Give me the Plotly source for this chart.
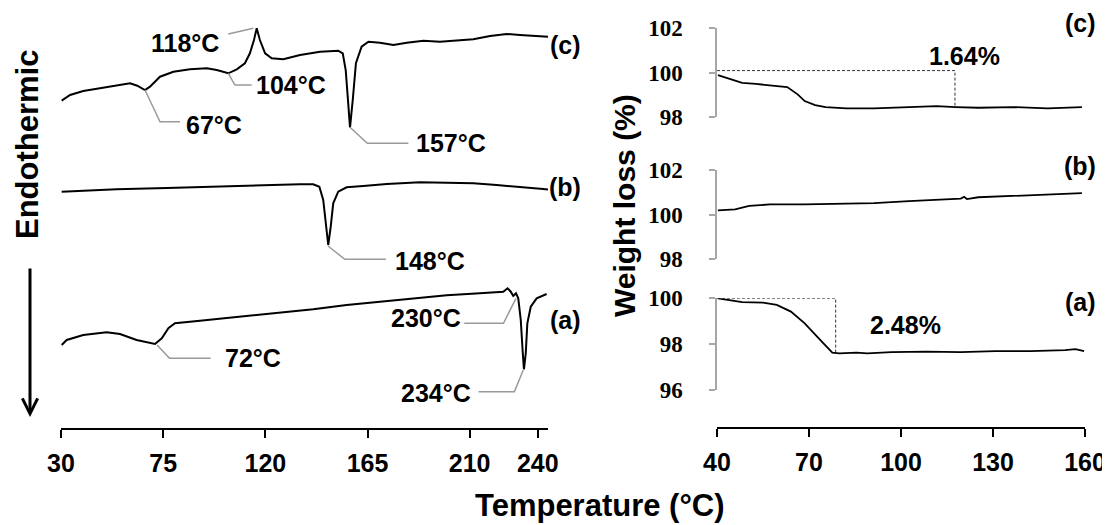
import plotly.graph_objects as go

# ---------------- DSC data (left panel, heat flow in arbitrary units) ----------------
dsc_c_temp = [30.3, 34.0, 39.8, 47.2, 54.5, 60.4, 63.6, 67.0, 69.2, 73.6, 79.5, 86.8, 94.2, 98.6,
              103.7, 107.4, 111.0, 113.2, 115.0, 116.2, 117.6, 119.9, 122.8, 127.9, 135.3, 144.1,
              152.1, 154.1, 155.4, 156.3, 157.3, 158.5, 159.9, 162.4, 165.4, 170.5, 176.4, 182.3,
              189.6, 196.9, 204.3, 211.6, 219.0, 226.3, 232.2, 241.0, 244.5]
dsc_c_val = [3.273, 3.33, 3.37, 3.397, 3.423, 3.447, 3.423, 3.38, 3.413, 3.513, 3.563, 3.587, 3.597, 3.58,
             3.547, 3.587, 3.647, 3.747, 3.88, 3.997, 3.88, 3.747, 3.697, 3.687, 3.73, 3.763,
             3.773, 3.747, 3.58, 3.313, 3.007, 3.28, 3.647, 3.813, 3.863, 3.853, 3.83, 3.853,
             3.873, 3.863, 3.873, 3.887, 3.92, 3.94, 3.93, 3.913, 3.913]

dsc_b_temp = [30.3, 39.7, 54.5, 76.6, 91.2, 108.8, 120.6, 135.3, 141.1, 143.8, 145.5, 147.0, 147.7,
              148.8, 149.9, 152.1, 155.8, 163.1, 173.5, 188.1, 199.9, 211.6, 221.9, 232.2, 242.4, 244.5]
dsc_b_val = [2.363, 2.373, 2.387, 2.40, 2.41, 2.423, 2.433, 2.437, 2.437, 2.413, 2.28, 2.013, 1.83,
             2.013, 2.247, 2.363, 2.407, 2.42, 2.44, 2.457, 2.453, 2.447, 2.43, 2.413, 2.39, 2.385]

dsc_a_temp = [30.3, 32.5, 39.8, 50.1, 56.0, 63.3, 71.4, 74.4, 77.3, 80.2, 91.2, 105.9, 120.6, 135.3,
              141.1, 155.8, 170.5, 185.2, 199.9, 214.5, 224.8, 226.7, 228.1, 229.2, 230.4, 231.4,
              232.5, 233.4, 233.9, 234.7, 235.4, 236.9, 239.5, 243.9]
dsc_a_val = [0.83, 0.88, 0.93, 0.957, 0.94, 0.88, 0.84, 0.897, 0.997, 1.047, 1.073, 1.107, 1.147, 1.18,
             1.187, 1.23, 1.263, 1.297, 1.327, 1.347, 1.363, 1.397, 1.363, 1.32, 1.347, 1.297,
             1.08, 0.747, 0.587, 0.747, 1.047, 1.213, 1.297, 1.34]

# peak labels: text, label position, leader line points
dsc_labels = ["118°C", "104°C", "67°C", "157°C", "148°C", "72°C", "230°C", "234°C"]
dsc_label_temp = [84.6, 131.3, 97.2, 201.8, 192.5, 114.4, 190.8, 195.2]
dsc_label_val = [3.855, 3.43, 3.03, 2.853, 1.673, 0.70, 1.105, 0.355]
leader_temp = [[103.7, 114.7], [103.7, 106.6, 114.0], [67.0, 73.6, 82.4], [157.3, 164.9, 183.0],
               [147.6, 155.0, 173.1], [72.3, 77.8, 95.9], [207.6, 224.9, 230.4], [213.9, 229.7, 233.6]]
leader_val = [[3.94, 3.997], [3.547, 3.43, 3.43], [3.38, 3.063, 3.063], [3.007, 2.847, 2.847],
              [1.82, 1.687, 1.687], [0.83, 0.697, 0.697], [1.047, 1.047, 1.297], [0.363, 0.363, 0.58]]

dsc_ticks = [30, 75, 120, 165, 210, 240]

# ---------------- TGA data (right panels, weight %) ----------------
tga_c_temp = [40.3, 44.8, 48.2, 52.7, 60.6, 62.9, 66.3, 68.6, 72.0, 75.4, 82.2, 91.2, 102.6, 111.6,
              117.8, 125.2, 136.5, 147.8, 159.0]
tga_c_val = [99.9, 99.7, 99.55, 99.5, 99.4, 99.36, 99.03, 98.73, 98.55, 98.46, 98.4, 98.4, 98.46, 98.5,
             98.46, 98.43, 98.46, 98.4, 98.46]

tga_b_temp = [40.3, 45.9, 50.5, 57.3, 68.6, 79.9, 91.2, 102.6, 113.9, 119.5, 120.6, 121.5, 125.2,
              136.5, 147.8, 159.0]
tga_b_val = [100.19, 100.24, 100.39, 100.46, 100.46, 100.49, 100.52, 100.61, 100.7, 100.72, 100.8,
             100.7, 100.78, 100.84, 100.9, 100.96]

tga_a_temp = [40.3, 48.2, 55.0, 59.5, 64.1, 68.6, 73.1, 76.5, 77.6, 79.9, 85.5, 89.0, 96.9, 108.2,
              119.5, 130.8, 142.2, 153.5, 156.9, 159.7]
tga_a_val = [100.0, 99.83, 99.81, 99.71, 99.42, 98.91, 98.26, 97.75, 97.63, 97.6, 97.63, 97.6, 97.65,
             97.67, 97.65, 97.7, 97.7, 97.74, 97.78, 97.7]

loss_c_temp = [40.0, 117.6, 117.6]
loss_c_val = [100.1, 100.1, 98.46]
loss_a_temp = [40.0, 78.7, 78.7]
loss_a_val = [100.0, 100.0, 97.6]

tga_ticks = [40, 70, 100, 130, 160]

# ---------------- figure ----------------
W, H = 1110, 525
OFF = 8  # the page body adds an 8px offset; place everything in reference pixel positions
def px(x):
    return (x - OFF) / W
def py(y):
    return 1 - (y - OFF) / H

SANS = "Liberation Sans, Arial, sans-serif"
SERIF = "Liberation Serif, Times New Roman, serif"
BLACK = "#000000"
GREY = "#9a9a9a"

fig = go.Figure()

for t, v in [(dsc_c_temp, dsc_c_val), (dsc_b_temp, dsc_b_val), (dsc_a_temp, dsc_a_val)]:
    fig.add_trace(go.Scatter(x=t, y=v, mode="lines", line=dict(color=BLACK, width=2),
                             xaxis="x", yaxis="y", showlegend=False, hoverinfo="skip"))

for lt, lv in zip(leader_temp, leader_val):
    fig.add_trace(go.Scatter(x=lt, y=lv, mode="lines", line=dict(color=GREY, width=1.5),
                             xaxis="x", yaxis="y", showlegend=False, hoverinfo="skip"))

for txt, t, v in zip(dsc_labels, dsc_label_temp, dsc_label_val):
    fig.add_annotation(x=t, y=v, xref="x", yref="y", text=txt, showarrow=False,
                       xanchor="center", yanchor="middle",
                       font=dict(family=SANS, size=25, color=BLACK, weight="bold"))

# TGA traces
fig.add_trace(go.Scatter(x=loss_c_temp, y=loss_c_val, mode="lines",
                         line=dict(color="#333333", width=1, dash="3px,2px"),
                         xaxis="x2", yaxis="y2", showlegend=False, hoverinfo="skip"))
fig.add_trace(go.Scatter(x=loss_a_temp, y=loss_a_val, mode="lines",
                         line=dict(color="#333333", width=1, dash="3px,2px"),
                         xaxis="x2", yaxis="y4", showlegend=False, hoverinfo="skip"))
fig.add_trace(go.Scatter(x=tga_c_temp, y=tga_c_val, mode="lines", line=dict(color=BLACK, width=1.8),
                         xaxis="x2", yaxis="y2", showlegend=False, hoverinfo="skip"))
fig.add_trace(go.Scatter(x=tga_b_temp, y=tga_b_val, mode="lines", line=dict(color=BLACK, width=1.8),
                         xaxis="x2", yaxis="y3", showlegend=False, hoverinfo="skip"))
fig.add_trace(go.Scatter(x=tga_a_temp, y=tga_a_val, mode="lines", line=dict(color=BLACK, width=1.8),
                         xaxis="x2", yaxis="y4", showlegend=False, hoverinfo="skip"))

xaxis_style = dict(showline=True, linecolor=BLACK, linewidth=2, ticks="outside", ticklen=8,
                   tickwidth=2, tickcolor=BLACK, showgrid=False, zeroline=False, automargin=False,
                   tickfont=dict(family=SANS, size=25, color=BLACK, weight="bold"),
                   ticklabelstandoff=4)
yaxis_style = dict(showline=True, linecolor="#a6a6a6", linewidth=1.5, ticks="outside", ticklen=6,
                   tickwidth=1.5, tickcolor="#a6a6a6", showgrid=False, zeroline=False,
                   automargin=False, ticklabelstandoff=22,
                   tickfont=dict(family=SERIF, size=23, color=BLACK, weight="bold"))

bottom = py(428)
fig.update_layout(
    width=W, height=H, margin=dict(l=0, r=0, t=0, b=0, pad=0, autoexpand=False),
    paper_bgcolor="white", plot_bgcolor="white", template="none",
    xaxis=dict(domain=[px(61), px(548)], range=[30, 244.5], anchor="y", tickvals=dsc_ticks,
               **xaxis_style),
    yaxis=dict(domain=[bottom, py(20)], range=[0, 4.08], visible=False, automargin=False),
    xaxis2=dict(domain=[px(717), px(1085)], range=[40, 160], anchor="free", position=bottom,
                tickvals=tga_ticks, **xaxis_style),
    yaxis2=dict(domain=[py(117.3), py(28.3)], range=[98, 102], anchor="x2",
                tickvals=[98, 100, 102], **yaxis_style),
    yaxis3=dict(domain=[py(259.3), py(170)], range=[98, 102], anchor="x2",
                tickvals=[98, 100, 102], **yaxis_style),
    yaxis4=dict(domain=[py(390), py(298.3)], range=[96, 100], anchor="x2",
                tickvals=[96, 98, 100], **yaxis_style),
)

bold25 = dict(family=SANS, size=25, color=BLACK, weight="bold")
# series labels
for txt, x, y in [("(c)", 565, 45), ("(b)", 565, 187), ("(a)", 565, 320),
                  ("(c)", 1080, 23), ("(b)", 1080, 166), ("(a)", 1080, 302)]:
    fig.add_annotation(x=px(x), y=py(y), xref="paper", yref="paper", text=txt, showarrow=False,
                       xanchor="center", yanchor="middle", font=bold25)

fig.add_annotation(x=px(964), y=py(56), xref="paper", yref="paper", text="1.64%", showarrow=False,
                   xanchor="center", yanchor="middle", font=bold25)
fig.add_annotation(x=px(905), y=py(325), xref="paper", yref="paper", text="2.48%", showarrow=False,
                   xanchor="center", yanchor="middle", font=bold25)

# axis titles
fig.add_annotation(x=px(600), y=py(505), xref="paper", yref="paper", text="Temperature (°C)",
                   showarrow=False, xanchor="center", yanchor="middle",
                   font=dict(family=SANS, size=31, color=BLACK, weight="bold"))
fig.add_annotation(x=px(624), y=py(206), xref="paper", yref="paper", text="Weight loss (%)",
                   textangle=-90, showarrow=False, xanchor="center", yanchor="middle",
                   font=dict(family=SANS, size=30, color=BLACK, weight="bold"))
fig.add_annotation(x=px(27), y=py(145), xref="paper", yref="paper", text="Endothermic",
                   textangle=-90, showarrow=False, xanchor="center", yanchor="middle",
                   font=dict(family=SANS, size=31, color=BLACK, weight="bold"))
# endothermic arrow
fig.add_annotation(x=px(30), y=py(417), xref="paper", yref="paper", text="", showarrow=True,
                   ax=0, ay=-150, arrowhead=5, arrowwidth=3, arrowsize=1, arrowcolor=BLACK,
                   standoff=0)

fig.write_html("out.html")
